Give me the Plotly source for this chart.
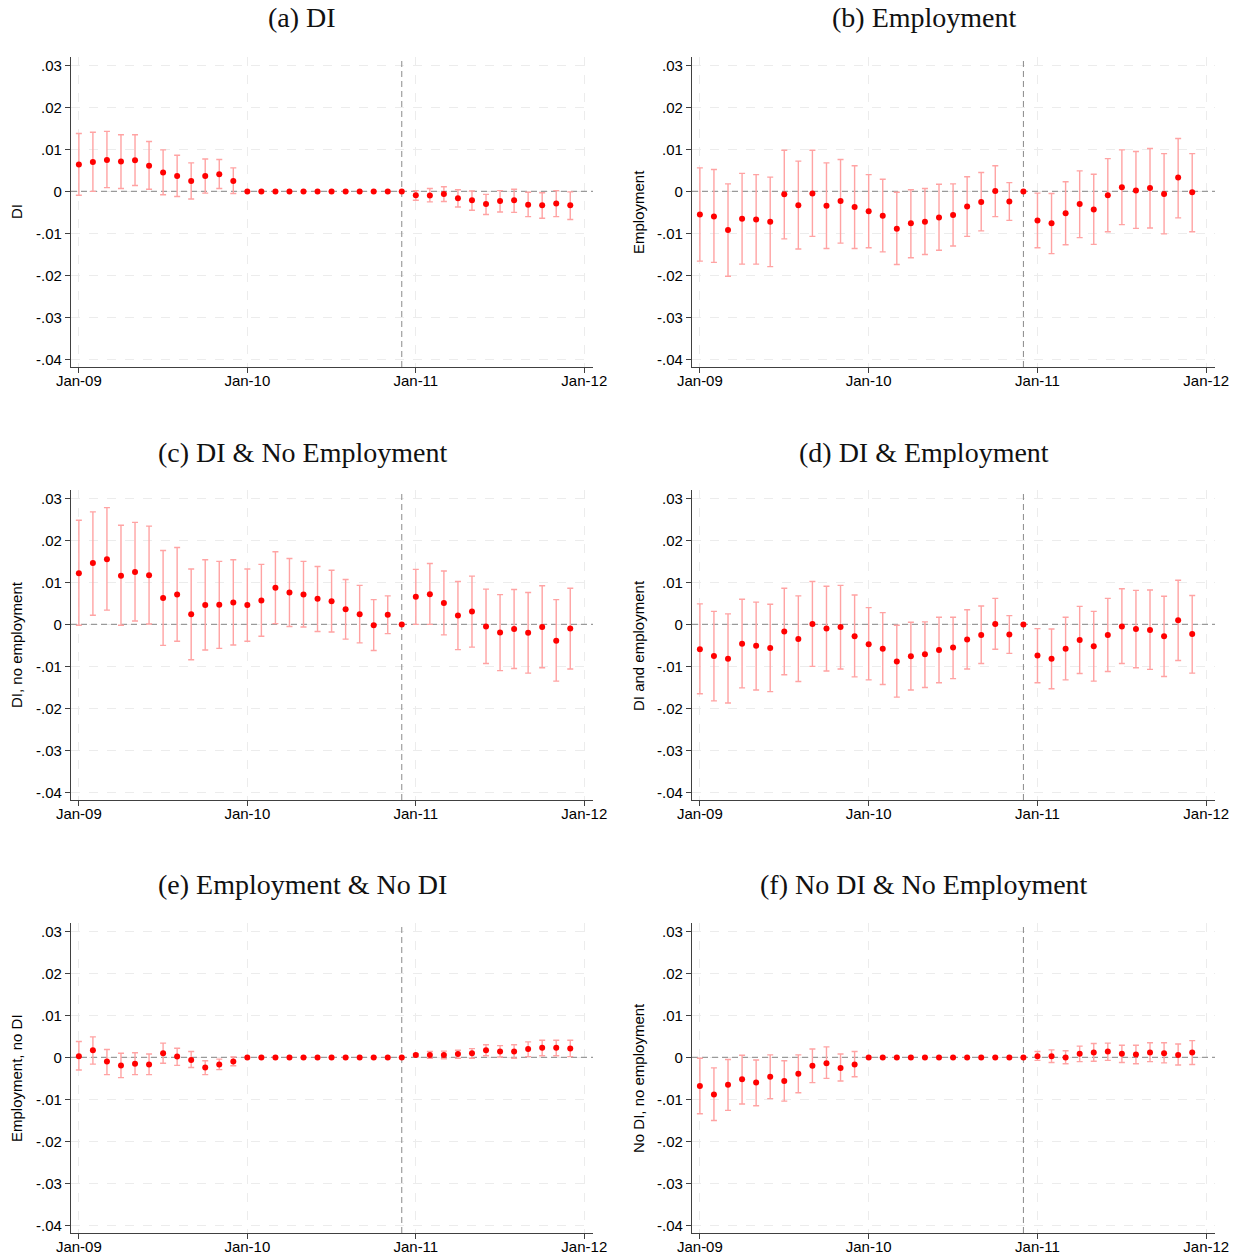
import plotly.graph_objects as go

# Monthly event-time index: 0 = Jan-09 ... 35 = Dec-11
months = list(range(36))
event_month = 23  # Dec-10 reference month

x_tickvals = [0, 12, 24, 36]
x_ticktext = ["Jan-09", "Jan-10", "Jan-11", "Jan-12"]
y_tickvals = [-0.04, -0.03, -0.02, -0.01, 0, 0.01, 0.02, 0.03]
y_ticktext = ["-.04", "-.03", "-.02", "-.01", "0", ".01", ".02", ".03"]

panel_titles = ["(a) DI", "(b) Employment", "(c) DI & No Employment",
                "(d) DI & Employment", "(e) Employment & No DI",
                "(f) No DI & No Employment"]
y_titles = ["DI", "Employment", "DI, no employment", "DI and employment",
            "Employment, no DI", "No DI, no employment"]

Z12 = [0.0] * 12

# (a) DI
di_est = [0.0064, 0.0070, 0.0075, 0.0071, 0.0074, 0.0061, 0.0045, 0.0037, 0.0025, 0.0037, 0.0041, 0.0025] + Z12 + \
         [-0.0009, -0.0010, -0.0006, -0.0016, -0.0021, -0.0030, -0.0023, -0.0021, -0.0032, -0.0033, -0.0029, -0.0033]
di_lo = [-0.0009, 0.0000, 0.0009, 0.0007, 0.0014, 0.0005, -0.0008, -0.0012, -0.0018, -0.0004, 0.0007, -0.0005] + Z12 + \
        [-0.0021, -0.0025, -0.0024, -0.0037, -0.0045, -0.0055, -0.0049, -0.0050, -0.0060, -0.0064, -0.0060, -0.0067]
di_hi = [0.0138, 0.0141, 0.0143, 0.0135, 0.0135, 0.0119, 0.0099, 0.0086, 0.0068, 0.0077, 0.0076, 0.0056] + Z12 + \
        [0.0002, 0.0007, 0.0011, 0.0004, 0.0001, -0.0007, 0.0002, 0.0005, -0.0002, -0.0003, 0.0002, -0.0001]

# (b) Employment
emp_est = [-0.0055, -0.0060, -0.0092, -0.0065, -0.0067, -0.0072, -0.0007, -0.0033, -0.0005, -0.0034, -0.0023, -0.0037,
           -0.0047, -0.0058, -0.0089, -0.0076, -0.0072, -0.0062, -0.0056, -0.0036, -0.0025, 0.0001, -0.0024, 0.0,
           -0.0069, -0.0076, -0.0052, -0.0030, -0.0043, -0.0009, 0.0010, 0.0002, 0.0008, -0.0006, 0.0033, -0.0002]
emp_lo = [-0.0166, -0.0169, -0.0202, -0.0173, -0.0173, -0.0179, -0.0113, -0.0137, -0.0107, -0.0136, -0.0123, -0.0136,
          -0.0134, -0.0144, -0.0174, -0.0158, -0.0150, -0.0140, -0.0130, -0.0107, -0.0094, -0.0060, -0.0069, 0.0,
          -0.0134, -0.0148, -0.0127, -0.0110, -0.0126, -0.0096, -0.0079, -0.0088, -0.0087, -0.0101, -0.0063, -0.0096]
emp_hi = [0.0056, 0.0052, 0.0018, 0.0043, 0.0040, 0.0034, 0.0098, 0.0072, 0.0098, 0.0068, 0.0076, 0.0061,
          0.0040, 0.0029, -0.0002, 0.0004, 0.0007, 0.0017, 0.0018, 0.0035, 0.0045, 0.0061, 0.0021, 0.0,
          -0.0004, -0.0005, 0.0023, 0.0049, 0.0041, 0.0078, 0.0099, 0.0095, 0.0102, 0.0090, 0.0126, 0.0090]

# (c) DI & No Employment
di_noemp_est = [0.0122, 0.0146, 0.0155, 0.0116, 0.0125, 0.0117, 0.0063, 0.0071, 0.0024, 0.0046, 0.0047, 0.0052,
                0.0046, 0.0057, 0.0087, 0.0076, 0.0071, 0.0061, 0.0055, 0.0036, 0.0024, -0.0002, 0.0023, 0.0,
                0.0066, 0.0072, 0.0051, 0.0021, 0.0031, -0.0005, -0.0019, -0.0011, -0.0020, -0.0006, -0.0039, -0.0010]
di_noemp_lo = [-0.0002, 0.0022, 0.0034, -0.0002, 0.0008, 0.0001, -0.0050, -0.0040, -0.0084, -0.0061, -0.0057, -0.0049,
               -0.0040, -0.0028, 0.0002, -0.0005, -0.0006, -0.0017, -0.0018, -0.0035, -0.0044, -0.0062, -0.0022, 0.0,
               0.0000, 0.0000, -0.0025, -0.0060, -0.0054, -0.0093, -0.0110, -0.0105, -0.0116, -0.0103, -0.0135, -0.0106]
di_noemp_hi = [0.0248, 0.0268, 0.0278, 0.0236, 0.0243, 0.0234, 0.0176, 0.0183, 0.0132, 0.0154, 0.0150, 0.0154,
               0.0132, 0.0143, 0.0173, 0.0157, 0.0150, 0.0138, 0.0129, 0.0107, 0.0093, 0.0059, 0.0068, 0.0,
               0.0131, 0.0145, 0.0127, 0.0102, 0.0115, 0.0084, 0.0071, 0.0083, 0.0076, 0.0092, 0.0059, 0.0086]

# (d) DI & Employment
di_emp_est = [-0.0059, -0.0075, -0.0082, -0.0046, -0.0051, -0.0056, -0.0017, -0.0035, 0.0001, -0.0010, -0.0006, -0.0028,
              -0.0047, -0.0058, -0.0088, -0.0076, -0.0071, -0.0061, -0.0055, -0.0036, -0.0025, 0.0001, -0.0024, 0.0,
              -0.0074, -0.0082, -0.0058, -0.0037, -0.0052, -0.0025, -0.0005, -0.0011, -0.0013, -0.0028, 0.0010, -0.0023]
di_emp_lo = [-0.0165, -0.0182, -0.0187, -0.0151, -0.0156, -0.0160, -0.0120, -0.0136, -0.0100, -0.0111, -0.0106, -0.0125,
             -0.0132, -0.0143, -0.0173, -0.0156, -0.0150, -0.0139, -0.0129, -0.0106, -0.0093, -0.0059, -0.0069, 0.0,
             -0.0139, -0.0153, -0.0132, -0.0117, -0.0135, -0.0112, -0.0093, -0.0103, -0.0107, -0.0124, -0.0086, -0.0116]
di_emp_hi = [0.0049, 0.0031, 0.0025, 0.0060, 0.0053, 0.0048, 0.0086, 0.0068, 0.0102, 0.0091, 0.0093, 0.0070,
             0.0040, 0.0028, -0.0002, 0.0005, 0.0006, 0.0017, 0.0017, 0.0035, 0.0044, 0.0062, 0.0021, 0.0,
             -0.0010, -0.0011, 0.0017, 0.0043, 0.0031, 0.0062, 0.0085, 0.0081, 0.0082, 0.0067, 0.0105, 0.0069]

# (e) Employment & No DI
emp_nodi_est = [0.0003, 0.0017, -0.0010, -0.0019, -0.0015, -0.0017, 0.0010, 0.0002, -0.0006, -0.0024, -0.0017, -0.0010] + Z12 + \
               [0.0006, 0.0006, 0.0006, 0.0008, 0.0010, 0.0017, 0.0014, 0.0014, 0.0020, 0.0023, 0.0023, 0.0021]
emp_nodi_lo = [-0.0030, -0.0016, -0.0041, -0.0048, -0.0041, -0.0041, -0.0014, -0.0019, -0.0024, -0.0041, -0.0029, -0.0020] + Z12 + \
              [0.0002, -0.0002, -0.0003, -0.0002, -0.0002, 0.0004, 0.0001, -0.0002, 0.0002, 0.0004, 0.0004, 0.0002]
emp_nodi_hi = [0.0038, 0.0049, 0.0019, 0.0010, 0.0011, 0.0008, 0.0034, 0.0022, 0.0014, -0.0008, -0.0004, 0.0001] + Z12 + \
              [0.0009, 0.0014, 0.0015, 0.0017, 0.0021, 0.0030, 0.0028, 0.0030, 0.0037, 0.0041, 0.0041, 0.0041]

# (f) No DI & No Employment
nodi_noemp_est = [-0.0068, -0.0088, -0.0065, -0.0052, -0.0060, -0.0046, -0.0056, -0.0039, -0.0020, -0.0014, -0.0025, -0.0017] + Z12 + \
                 [0.0003, 0.0003, 0.0000, 0.0009, 0.0012, 0.0014, 0.0009, 0.0007, 0.0012, 0.0010, 0.0006, 0.0012]
nodi_noemp_lo = [-0.0134, -0.0150, -0.0126, -0.0111, -0.0115, -0.0098, -0.0104, -0.0084, -0.0060, -0.0050, -0.0056, -0.0046] + Z12 + \
                [-0.0007, -0.0012, -0.0015, -0.0010, -0.0009, -0.0007, -0.0012, -0.0015, -0.0010, -0.0013, -0.0018, -0.0017]
nodi_noemp_hi = [-0.0002, -0.0025, -0.0005, 0.0005, -0.0006, 0.0006, -0.0008, 0.0006, 0.0020, 0.0025, 0.0008, 0.0014] + Z12 + \
                [0.0014, 0.0018, 0.0016, 0.0027, 0.0033, 0.0034, 0.0029, 0.0029, 0.0035, 0.0035, 0.0032, 0.0040]

series = [
    (di_est, di_lo, di_hi),
    (emp_est, emp_lo, emp_hi),
    (di_noemp_est, di_noemp_lo, di_noemp_hi),
    (di_emp_est, di_emp_lo, di_emp_hi),
    (emp_nodi_est, emp_nodi_lo, emp_nodi_hi),
    (nodi_noemp_est, nodi_noemp_lo, nodi_noemp_hi),
]

X_RANGE = [-0.56, 36.62]
Y_RANGE = [-0.0418, 0.0320]

W, H = 1241, 1260
# plot-area pixel boxes: columns (left, right) and rows (top, bottom)
col_px = [(71, 593), (692, 1215)]
row_px = [(57, 367), (490, 800), (923, 1233)]
title_cx = [302, 924]
title_cy = [18, 452, 885]
ytitle_cx = [16, 638]

TICK_FONT = dict(family="Liberation Sans, Arial, sans-serif", size=15, color="#000000")
TITLE_FONT = dict(family="Liberation Serif, Times New Roman, serif", size=28, color="#111111")
AXIS_COLOR = "#404040"
GRID_COLOR = "#ececec"
CI_COLOR = "#ffa3a3"
PT_COLOR = "#ff0000"

fig = go.Figure()
annotations = []

for i, (est, lo, hi) in enumerate(series):
    r, c = divmod(i, 2)
    k = i + 1
    xa = "x" if k == 1 else f"x{k}"
    ya = "y" if k == 1 else f"y{k}"

    # reference lines: zero effect and the Dec-10 reference month (drawn under the estimates)
    fig.add_trace(go.Scatter(
        x=X_RANGE, y=[0, 0], mode="lines", xaxis=xa, yaxis=ya,
        line=dict(color="#9a9a9a", width=1.3, dash="6px,4px"),
        showlegend=False, hoverinfo="skip"))
    fig.add_trace(go.Scatter(
        x=[event_month, event_month], y=Y_RANGE, mode="lines", xaxis=xa, yaxis=ya,
        line=dict(color="#8a8a8a", width=1, dash="6px,4px"),
        showlegend=False, hoverinfo="skip"))

    up = [h - e for e, h in zip(est, hi)]
    dn = [e - l for e, l in zip(est, lo)]
    fig.add_trace(go.Scatter(
        x=months, y=est, mode="markers", xaxis=xa, yaxis=ya,
        marker=dict(color=PT_COLOR, size=6, line=dict(width=0)),
        error_y=dict(type="data", symmetric=False, array=up, arrayminus=dn,
                     color=CI_COLOR, thickness=1.4, width=3),
        showlegend=False, hoverinfo="skip",
    ))

    x0, x1 = col_px[c]
    yt, yb = row_px[r]
    xdom = [x0 / W, x1 / W]
    ydom = [1 - yb / H, 1 - yt / H]
    axis_common = dict(showline=True, linecolor=AXIS_COLOR, linewidth=1.3,
                       ticks="outside", ticklen=5, tickwidth=1.1, tickcolor=AXIS_COLOR,
                       tickfont=TICK_FONT, showgrid=True, gridcolor=GRID_COLOR,
                       griddash="dash", gridwidth=1, zeroline=False, mirror=False,
                       automargin=False)
    fig.layout[f"xaxis{'' if k == 1 else k}"] = dict(
        domain=xdom, anchor=ya, range=X_RANGE, ticklabelstandoff=-5,
        tickvals=x_tickvals, ticktext=x_ticktext, **axis_common)
    fig.layout[f"yaxis{'' if k == 1 else k}"] = dict(
        domain=ydom, anchor=xa, range=Y_RANGE,
        tickvals=y_tickvals, ticktext=y_ticktext, **axis_common)

    annotations.append(dict(text=panel_titles[i], xref="paper", yref="paper",
                            x=title_cx[c] / W, y=1 - title_cy[r] / H, xanchor="center",
                            yanchor="middle", showarrow=False, font=TITLE_FONT))
    annotations.append(dict(text=y_titles[i], xref="paper", yref="paper",
                            x=ytitle_cx[c] / W, y=1 - (yt + yb) / 2 / H, xanchor="center",
                            yanchor="middle", textangle=-90, showarrow=False, font=TICK_FONT))

fig.update_layout(
    width=W, height=H, margin=dict(l=0, r=0, t=0, b=0, autoexpand=False),
    paper_bgcolor="white", plot_bgcolor="white",
    annotations=annotations,
)

fig.write_html("out.html")
